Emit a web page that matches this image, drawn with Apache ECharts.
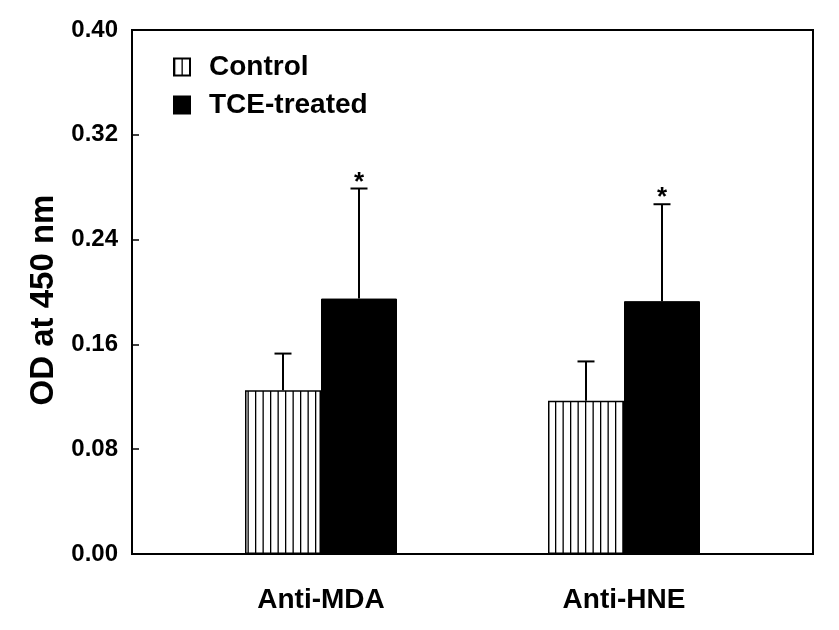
<!DOCTYPE html>
<html>
<head>
<meta charset="utf-8">
<script src="https://cdn.jsdelivr.net/npm/echarts@6/dist/echarts.min.js"></script>
<style>
html,body{margin:0;padding:0;background:#fff;}
#chart{width:839px;height:630px;}
</style>
</head>
<body>
<div id="chart"></div>
<script>
// ---- data ----
const categories = ['Anti-MDA', 'Anti-HNE'];
const controlMeans = [0.125, 0.117];
const controlErrors = [0.028, 0.030];
const treatedMeans = [0.195, 0.193];
const treatedErrors = [0.084, 0.074];
const treatedMarks = ['*', '*'];
const yTicks = [0.00, 0.08, 0.16, 0.24, 0.32, 0.40];

const FONT = 'Liberation Sans, Arial, Helvetica, sans-serif';
const BAR_W = 76;

// vertical hatch pattern for the control bars
const pc = document.createElement('canvas');
pc.width = 15; pc.height = 10;
const pctx = pc.getContext('2d');
pctx.fillStyle = '#fff';
pctx.fillRect(0, 0, 15, 10);
pctx.fillStyle = '#000';
pctx.fillRect(0, 0, 1.3, 10);
pctx.fillRect(7.5, 0, 1.3, 10);

function errorSeries(name, means, errs, offsetSign, marks) {
  return {
    type: 'custom',
    name: name + '-err',
    xAxisIndex: 1,
    yAxisIndex: 1,
    silent: true,
    z: 5,
    data: means.map((m, i) => [i, m, errs[i]]),
    renderItem: function (params, api) {
      const i = api.value(0);
      const base = api.coord([i, api.value(1)]);
      const top = api.coord([i, api.value(1) + api.value(2)]);
      const x = base[0] + offsetSign * BAR_W / 2;
      const children = [
        { type: 'line', shape: { x1: x, y1: base[1], x2: x, y2: top[1] }, style: { stroke: '#000', lineWidth: 2 } },
        { type: 'line', shape: { x1: x - 8.5, y1: top[1], x2: x + 8.5, y2: top[1] }, style: { stroke: '#000', lineWidth: 2 } }
      ];
      const mark = marks ? marks[params.dataIndex] : '';
      if (mark) {
        children.push({ type: 'text', style: { text: mark, x: x, y: top[1] - 6, align: 'center', verticalAlign: 'middle', font: 'bold 26px ' + FONT, fill: '#000' } });
      }
      return { type: 'group', children: children };
    }
  };
}

const chart = echarts.init(document.getElementById('chart'), null, { renderer: 'canvas' });
chart.setOption({
  backgroundColor: '#fff',
  animation: false,
  legend: {
    orient: 'vertical',
    left: 168,
    top: 48,
    icon: 'rect',
    itemWidth: 16,
    itemHeight: 17,
    itemGap: 10,
    data: ['Control', 'TCE-treated'],
    textStyle: { fontFamily: FONT, fontWeight: 'bold', fontSize: 28, lineHeight: 28, color: '#000', padding: [0, 0, 0, 14] }
  },
  grid: [
    { left: 132, right: 26, top: 30, bottom: 76, show: true, borderColor: '#000', borderWidth: 2, backgroundColor: 'transparent' },
    { left: 169.5, right: 63.5, top: 30, bottom: 76 }
  ],
  xAxis: [
    { type: 'value', gridIndex: 0, min: 0, max: 1, show: false },
    { type: 'category', gridIndex: 1, data: categories,
      axisLine: { show: false }, axisTick: { show: false },
      axisLabel: { margin: 32, fontFamily: FONT, fontWeight: 'bold', fontSize: 28, color: '#000' } }
  ],
  yAxis: [
    { type: 'value', gridIndex: 0, min: 0, max: 0.4, interval: 0.08,
      name: 'OD at 450 nm', nameLocation: 'middle', nameGap: 72,
      nameTextStyle: { fontFamily: FONT, fontWeight: 'bold', fontSize: 33, color: '#000', padding: [0, 16, 0, 0] },
      axisLine: { show: true, lineStyle: { color: '#000', width: 2 } },
      axisTick: { show: true, inside: true, length: 7, lineStyle: { color: '#000', width: 1.5 } },
      splitLine: { show: false },
      axisLabel: { margin: 14, fontFamily: FONT, fontWeight: 'bold', fontSize: 24, color: '#000',
        formatter: v => yTicks.find(t => Math.abs(t - v) < 1e-9).toFixed(2) } },
    { type: 'value', gridIndex: 1, min: 0, max: 0.4, show: false }
  ],
  series: [
    { type: 'bar', name: 'Control', xAxisIndex: 1, yAxisIndex: 1, data: controlMeans,
      barWidth: BAR_W, barGap: '0%',
      itemStyle: { color: { image: pc, repeat: 'repeat' }, borderColor: '#000', borderWidth: 1.5 } },
    { type: 'bar', name: 'TCE-treated', xAxisIndex: 1, yAxisIndex: 1, data: treatedMeans,
      barWidth: BAR_W, barGap: '0%',
      itemStyle: { color: '#000', borderColor: '#000', borderWidth: 1 } },
    errorSeries('Control', controlMeans, controlErrors, -1, null),
    errorSeries('TCE-treated', treatedMeans, treatedErrors, 1, treatedMarks)
  ]
});
</script>
</body>
</html>
